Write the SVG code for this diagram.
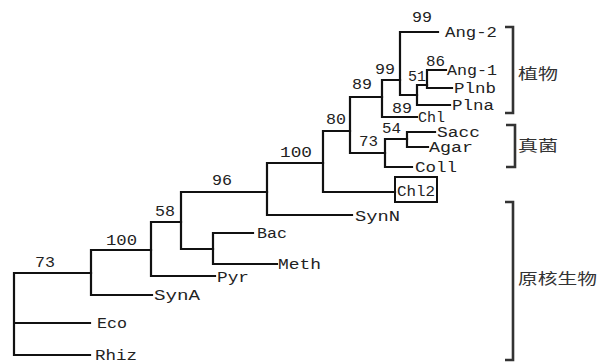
<svg xmlns="http://www.w3.org/2000/svg" width="607" height="363" viewBox="0 0 607 363">
<style>
.e{fill:none;stroke:#111;stroke-width:2.2;stroke-linecap:square}
.b{fill:none;stroke:#333;stroke-width:2.6}
.t{font-family:"Liberation Mono",monospace;font-size:14px;fill:#222}
.c{font-family:"Noto Sans CJK SC",sans-serif;font-size:15px;fill:#333}
</style>
<rect width="607" height="363" fill="#fff"/>
<g id="connectors">
<path class="e" d="M14,273V355M14,273H91M14,323H90M14,355H90"/>
<path class="e" d="M91,250V295M91,250H151M91,295H152"/>
<path class="e" d="M151,222V276M151,222H181M151,276H215"/>
<path class="e" d="M181,192V249M181,192H267M181,249H213"/>
<path class="e" d="M213,233V264M213,233H253M213,264H277"/>
<path class="e" d="M267,163V215M267,163H323M267,215H352"/>
<path class="e" d="M323,131V192M323,131H350M323,192H395"/>
<path class="e" d="M350,97V153M350,97H382M350,153H385"/>
<path class="e" d="M385,139V167M385,139H407M385,167H412"/>
<path class="e" d="M407,132V147M407,132H435M407,147H428"/>
<path class="e" d="M382,80V117M382,80H400M382,117H417"/>
<path class="e" d="M400,32V95M400,32H438M400,95H417"/>
<path class="e" d="M417,85V105M417,105H450M417,85H427"/>
<path class="e" d="M427,70V88M427,70H446M427,88H452"/>
</g>
<g id="brackets">
<path class="b" d="M505,27H513V113H505"/>
<path class="b" d="M506,125H515V167H506"/>
<path class="b" d="M505,202H513V360H505"/>
</g>
<g id="support">
<text class="t" x="412" y="22" textLength="20" lengthAdjust="spacingAndGlyphs">99</text>
<text class="t" x="375" y="74" textLength="20" lengthAdjust="spacingAndGlyphs">99</text>
<text class="t" x="352" y="89" textLength="20" lengthAdjust="spacingAndGlyphs">89</text>
<text class="t" x="408" y="81" textLength="18" lengthAdjust="spacingAndGlyphs">51</text>
<text class="t" x="426" y="66" textLength="19" lengthAdjust="spacingAndGlyphs">86</text>
<text class="t" x="392" y="113" textLength="20" lengthAdjust="spacingAndGlyphs">89</text>
<text class="t" x="326" y="124" textLength="20" lengthAdjust="spacingAndGlyphs">80</text>
<text class="t" x="359" y="146" textLength="19" lengthAdjust="spacingAndGlyphs">73</text>
<text class="t" x="382" y="133" textLength="19" lengthAdjust="spacingAndGlyphs">54</text>
<text class="t" x="280" y="157" textLength="32" lengthAdjust="spacingAndGlyphs">100</text>
<text class="t" x="212" y="185" textLength="20" lengthAdjust="spacingAndGlyphs">96</text>
<text class="t" x="155" y="216" textLength="20" lengthAdjust="spacingAndGlyphs">58</text>
<text class="t" x="106" y="245" textLength="31" lengthAdjust="spacingAndGlyphs">100</text>
<text class="t" x="35" y="267" textLength="20" lengthAdjust="spacingAndGlyphs">73</text>
</g>
<g id="n-Ang2"><text class="t" x="445" y="37" textLength="52" lengthAdjust="spacingAndGlyphs">Ang-2</text></g>
<g id="n-Ang1"><text class="t" x="447" y="75" textLength="50" lengthAdjust="spacingAndGlyphs">Ang-1</text></g>
<g id="n-Plnb"><text class="t" x="454" y="93" textLength="42" lengthAdjust="spacingAndGlyphs">Plnb</text></g>
<g id="n-Plna"><text class="t" x="452" y="110" textLength="42" lengthAdjust="spacingAndGlyphs">Plna</text></g>
<g id="n-Chl"><text class="t" x="418" y="122" textLength="27" lengthAdjust="spacingAndGlyphs">Chl</text></g>
<g id="n-Sacc"><text class="t" x="437" y="137" textLength="43" lengthAdjust="spacingAndGlyphs">Sacc</text></g>
<g id="n-Agar"><text class="t" x="429" y="152" textLength="44" lengthAdjust="spacingAndGlyphs">Agar</text></g>
<g id="n-Coll"><text class="t" x="415" y="172" textLength="42" lengthAdjust="spacingAndGlyphs">Coll</text></g>
<g id="n-Chl2"><rect x="395" y="177" width="42" height="25" fill="none" stroke="#111" stroke-width="2"/><text class="t" x="397" y="196" textLength="38" lengthAdjust="spacingAndGlyphs">Chl2</text></g>
<g id="n-SynN"><text class="t" x="355" y="221" textLength="45" lengthAdjust="spacingAndGlyphs">SynN</text></g>
<g id="n-Bac"><text class="t" x="257" y="238" textLength="30" lengthAdjust="spacingAndGlyphs">Bac</text></g>
<g id="n-Meth"><text class="t" x="278" y="269" textLength="43" lengthAdjust="spacingAndGlyphs">Meth</text></g>
<g id="n-Pyr"><text class="t" x="217" y="282" textLength="32" lengthAdjust="spacingAndGlyphs">Pyr</text></g>
<g id="n-SynA"><text class="t" x="154" y="300" textLength="46" lengthAdjust="spacingAndGlyphs">SynA</text></g>
<g id="n-Eco"><text class="t" x="97" y="328" textLength="30" lengthAdjust="spacingAndGlyphs">Eco</text></g>
<g id="n-Rhiz"><text class="t" x="95" y="360" textLength="42" lengthAdjust="spacingAndGlyphs">Rhiz</text></g>
<g id="g-plant"><text class="c" x="518" y="79" textLength="40" lengthAdjust="spacingAndGlyphs">植物</text></g>
<g id="g-fungi"><text class="c" x="518" y="151" textLength="40" lengthAdjust="spacingAndGlyphs">真菌</text></g>
<g id="g-prok"><text class="c" x="518" y="284" textLength="79" lengthAdjust="spacingAndGlyphs">原核生物</text></g>
</svg>
